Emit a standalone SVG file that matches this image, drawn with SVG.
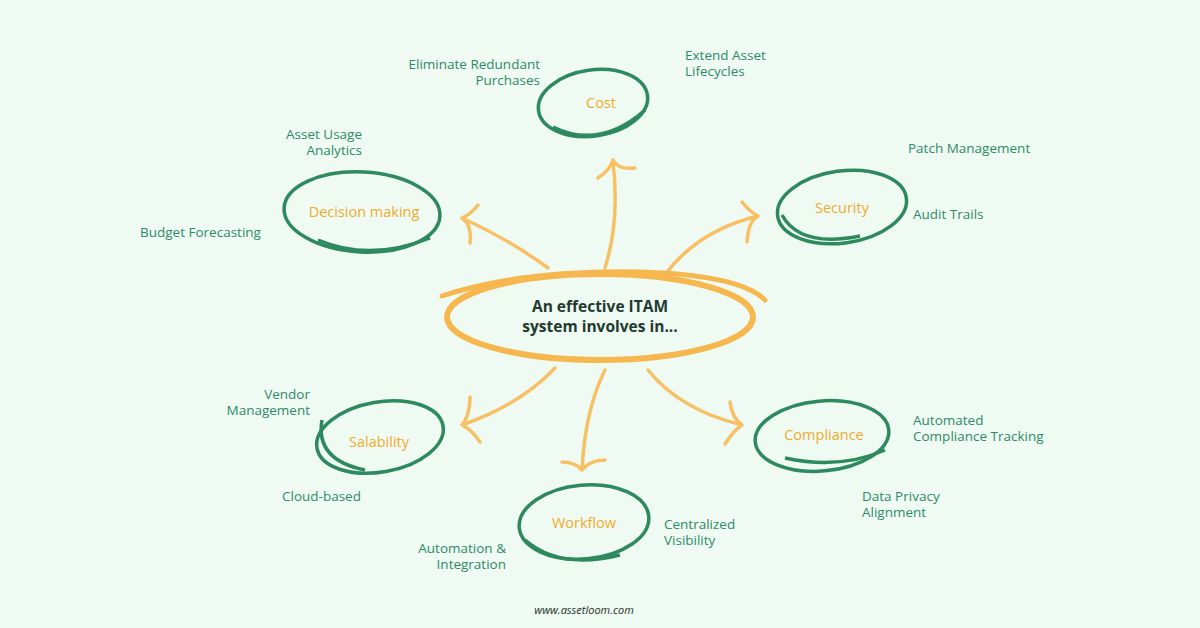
<svg xmlns="http://www.w3.org/2000/svg" width="1200" height="628" viewBox="0 0 1200 628">
<style>
.ring{fill:none;stroke:#2e8a5e;stroke-width:3.5}
.lbl{font-family:"Open Sans",Arial,sans-serif;font-size:14.5px;fill:#f0ab2e}
.t{font-family:"Open Sans",Arial,sans-serif;font-size:13.5px;fill:#2f8a68}
.arr{fill:none;stroke:#f7c064;stroke-width:3.5;stroke-linecap:round;stroke-linejoin:round}
</style>
<rect width="1200" height="628" fill="#eefaf2"/>
<g id="connectors">
<path class="arr" d="M605 268 Q620 220 613 162 M598 178 Q610 170 613 160 Q618 170 635 168"/>
<path class="arr" d="M548 268 Q510 240 462 218 M478 205 Q470 215 462 218 Q472 225 470 243"/>
<path class="arr" d="M667 272 Q700 230 758 216 M742 202 Q750 212 758 216 Q748 222 747 242"/>
<path class="arr" d="M555 368 Q520 405 462 425 M470 397 Q470 415 462 425 Q472 430 480 442"/>
<path class="arr" d="M605 370 Q585 410 582 470 M562 462 Q575 462 582 470 Q590 460 605 460"/>
<path class="arr" d="M648 370 Q680 410 742 425 M730 402 Q732 418 742 425 Q734 430 725 444"/>
</g>
<g id="center">
<ellipse cx="600" cy="317" rx="153" ry="43" fill="none" stroke="#f6b84e" stroke-width="6"/>
<path d="M442 296 Q520 270 640 272 Q740 275 765 300" fill="none" stroke="#f6b84e" stroke-width="5" stroke-linecap="round"/>
<text x="600" y="312" text-anchor="middle" font-family="'Open Sans',sans-serif" font-weight="bold" font-size="15.5" fill="#1f3a30">An effective ITAM</text>
<text x="600" y="332" text-anchor="middle" font-family="'Open Sans',sans-serif" font-weight="bold" font-size="15.5" fill="#1f3a30">system involves in...</text>
</g>
<g id="cost">
<ellipse class="ring" cx="593" cy="103" rx="55" ry="33" transform="rotate(-8 593 103)"/>
<path class="ring" d="M553 127 Q600 150 645 110"/>
<text class="lbl" x="601" y="108" text-anchor="middle">Cost</text>
<text class="t" x="540" y="69" text-anchor="end">Eliminate Redundant</text>
<text class="t" x="540" y="85" text-anchor="end">Purchases</text>
<text class="t" x="685" y="60">Extend Asset</text>
<text class="t" x="685" y="76">Lifecycles</text>
</g>
<g id="decision">
<ellipse class="ring" cx="362" cy="212" rx="78" ry="40" transform="rotate(3 362 212)"/>
<path class="ring" d="M318 240 Q370 262 430 238"/>
<text class="lbl" x="364" y="217" text-anchor="middle">Decision making</text>
<text class="t" x="362" y="139" text-anchor="end">Asset Usage</text>
<text class="t" x="362" y="155" text-anchor="end">Analytics</text>
<text class="t" x="140" y="237">Budget Forecasting</text>
</g>
<g id="security">
<ellipse class="ring" cx="842" cy="207" rx="65" ry="36" transform="rotate(-8 842 207)"/>
<path class="ring" d="M782 215 Q800 248 860 236"/>
<text class="lbl" x="842" y="213" text-anchor="middle">Security</text>
<text class="t" x="908" y="153">Patch Management</text>
<text class="t" x="913" y="219">Audit Trails</text>
</g>
<g id="salability">
<ellipse class="ring" cx="380" cy="437" rx="64" ry="35" transform="rotate(-10 380 437)"/>
<path class="ring" d="M322 420 Q315 460 365 470"/>
<text class="lbl" x="379" y="447" text-anchor="middle">Salability</text>
<text class="t" x="310" y="399" text-anchor="end">Vendor</text>
<text class="t" x="310" y="415" text-anchor="end">Management</text>
<text class="t" x="282" y="501">Cloud-based</text>
</g>
<g id="compliance">
<ellipse class="ring" cx="822" cy="436" rx="67" ry="35" transform="rotate(-5 822 436)"/>
<path class="ring" d="M785 458 Q840 470 885 450"/>
<text class="lbl" x="824" y="440" text-anchor="middle">Compliance</text>
<text class="t" x="913" y="425">Automated</text>
<text class="t" x="913" y="441">Compliance Tracking</text>
<text class="t" x="862" y="501">Data Privacy</text>
<text class="t" x="862" y="517">Alignment</text>
</g>
<g id="workflow">
<ellipse class="ring" cx="584" cy="522" rx="65" ry="37" transform="rotate(-5 584 522)"/>
<path class="ring" d="M525 540 Q560 570 620 555"/>
<text class="lbl" x="584" y="528" text-anchor="middle">Workflow</text>
<text class="t" x="506" y="553" text-anchor="end">Automation &amp;</text>
<text class="t" x="506" y="569" text-anchor="end">Integration</text>
<text class="t" x="664" y="529">Centralized</text>
<text class="t" x="664" y="545">Visibility</text>
</g>
<text x="584" y="614" text-anchor="middle" font-family="'Open Sans',sans-serif" font-style="italic" font-size="11" fill="#1f2f28">www.assetloom.com</text>
</svg>
